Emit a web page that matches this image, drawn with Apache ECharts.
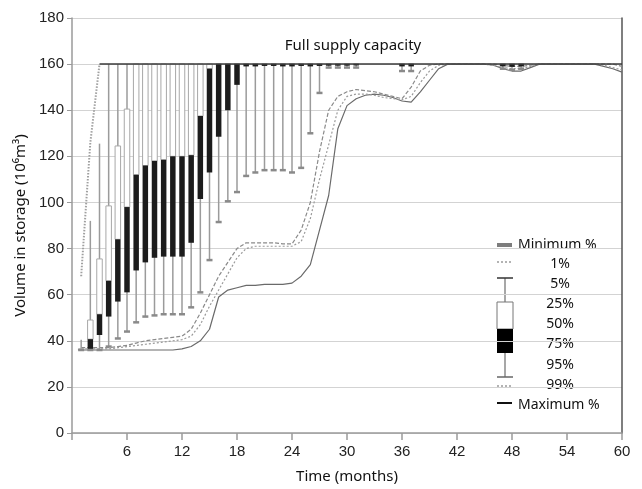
<!DOCTYPE html>
<html>
<head>
<meta charset="utf-8">
<script src="https://cdn.jsdelivr.net/npm/echarts@6/dist/echarts.min.js"></script>
<style>
  html, body { margin: 0; padding: 0; background: #fff; }
  #chart { width: 642px; height: 489px; }
</style>
</head>
<body>
<div id="chart"></div>
<script>
// Reservoir storage percentiles (10^6 m^3) per month of simulation
const xTicks = [6, 12, 18, 24, 30, 36, 42, 48, 54, 60];
const yTicks = [0, 20, 40, 60, 80, 100, 120, 140, 160, 180];

// Box-and-whisker months and their exceedance percentiles
const boxMonths = [1, 2, 3, 4, 5, 6, 7, 8, 9, 10, 11, 12, 13, 14, 15, 16, 17, 18, 19, 20,
                   21, 22, 23, 24, 25, 26, 27, 28, 29, 30, 31, 36, 37, 47, 48, 49];
const p5  = [40.5, 92, 125.5, 160, 160, 160, 160, 160, 160, 160, 160, 160, 160, 160, 160, 160, 160, 160, 160, 160,
             160, 160, 160, 160, 160, 160, 160, 160, 160, 160, 160, 160, 160, 160, 160, 160];
const p25 = [36.5, 49, 75.5, 98.5, 124.5, 140.5, 160, 160, 160, 160, 160, 160, 160, 160, 160, 160, 160, 160, 160, 160,
             160, 160, 160, 160, 160, 160, 160, 160, 160, 160, 160, 160, 160, 160, 160, 160];
const p50 = [36.2, 40.7, 51.5, 66, 84, 98, 112, 116, 118, 118.5, 120, 120, 120.5, 137.5, 158, 160, 160, 160, 160, 160,
             160, 160, 160, 160, 160, 160, 160, 160, 160, 160, 160, 160, 160, 160, 160, 160];
const p75 = [36, 36.3, 42.5, 50.5, 57, 61, 70.5, 74, 76, 76.5, 76.5, 76.5, 82.5, 101.5, 113, 128.5, 140, 151, 159, 159,
             159.2, 159.2, 159, 159, 159.2, 159, 159.2, 159.3, 159.3, 159.3, 159.4, 159, 159, 159, 158.8, 159];
const p95 = [36, 36, 36, 37.5, 41, 44, 48, 50.5, 51, 51.5, 51.5, 51.5, 54.5, 61, 75, 91.5, 100.5, 104.5, 111.5, 113,
             114, 114, 114, 113, 115, 130, 147.5, 158.5, 158.5, 158.5, 158.5, 157, 157, 158, 157.5, 158];

// Monthly envelope lines (months 1..60)
const months = [1, 2, 3, 4, 5, 6, 7, 8, 9, 10, 11, 12, 13, 14, 15, 16, 17, 18, 19, 20,
                21, 22, 23, 24, 25, 26, 27, 28, 29, 30, 31, 32, 33, 34, 35, 36, 37, 38, 39, 40,
                41, 42, 43, 44, 45, 46, 47, 48, 49, 50, 51, 52, 53, 54, 55, 56, 57, 58, 59, 60];
const upper1 = [68, 126, 160];
const upperMonths = [1, 2, 3];
const maxMonths = [3, 60];
const maxLevel = [160, 160];
const lineDashed = [37, 37, 37, 37, 37.5, 38, 39, 40, 40.5, 41, 41.5, 42, 45, 52, 60, 68, 74, 80, 82.5, 82.5,
                    82.5, 82.5, 82, 82, 88, 100, 122, 140, 146, 148, 149, 148.5, 148, 147, 146, 145, 150, 157, 159.5, 160,
                    160, 160, 160, 160, 160, 160, 159.5, 159, 159, 159.5, 160, 160, 160, 160, 160, 160, 160, 160, 160, 159];
const lineDotted = [36.5, 36.5, 36.5, 36.5, 37, 37.5, 38, 38.5, 39, 39.5, 40, 40.5, 42, 47, 55, 62, 69, 76, 80, 81,
                    81, 81, 81, 81, 83, 93, 110, 125, 140, 146, 147, 147, 146.5, 145.5, 145, 144.5, 146, 152, 157, 159.5,
                    160, 160, 160, 160, 160, 159.5, 158.5, 158, 158, 159, 160, 160, 160, 160, 160, 160, 160, 159.5, 158.5, 157.5];
const lineMin = [36, 36, 36, 36, 36, 36, 36, 36, 36, 36, 36, 36.5, 37.5, 40, 45, 59, 62, 63, 64, 64,
                 64.5, 64.5, 64.5, 65, 68, 73, 88, 103, 132, 142, 145, 146.5, 147, 146.5, 145.5, 144, 143.5, 148, 153, 158,
                 160, 160, 160, 160, 160, 159.5, 158, 157, 157, 158.5, 160, 160, 160, 160, 160, 160, 160, 159, 158, 156.5];

const legendLabels = ['Minimum %', '1%', '5%', '25%', '50%', '75%', '95%', '99%', 'Maximum %'];

const pair = (xs, ys) => xs.map((x, i) => [x, ys[i]]);
const boxData = boxMonths.map((m, i) => [m, p5[i], p25[i], p50[i], p75[i], p95[i]]);

const chart = echarts.init(document.getElementById('chart'), null, { renderer: 'canvas' });

const labelFont = { fontFamily: 'Liberation Sans', fontSize: 15, color: '#222' };
const nameFont = { fontFamily: 'Noto Sans', fontSize: 15, color: '#111' };

function renderBox(params, api) {
  const m = api.value(0);
  const top = api.coord([m, api.value(1)]);
  const q1 = api.coord([m, api.value(2)]);
  const md = api.coord([m, api.value(3)]);
  const q3 = api.coord([m, api.value(4)]);
  const bot = api.coord([m, api.value(5)]);
  const x = top[0];
  const w = 5.5;
  return {
    type: 'group',
    children: [
      { type: 'line', shape: { x1: x, y1: top[1], x2: x, y2: bot[1] },
        style: { stroke: '#9b9b9b', lineWidth: 1.5 } },
      { type: 'rect', shape: { x: x - w / 2, y: q1[1], width: w, height: Math.max(md[1] - q1[1], 0) },
        style: { fill: '#fff', stroke: '#a8a8a8', lineWidth: 1 } },
      { type: 'rect', shape: { x: x - w / 2, y: md[1], width: w, height: Math.max(q3[1] - md[1], 0.8) },
        style: { fill: '#1c1c1c' } },
      { type: 'line', shape: { x1: x - 3, y1: bot[1], x2: x + 3, y2: bot[1] },
        style: { stroke: '#8a8a8a', lineWidth: 2.5 } }
    ]
  };
}

// Legend glyph and labels
const lgX = 497, lgW = 16, lgMid = lgX + lgW / 2;
const legendRows = [245, 264.5, 284.5, 304, 324, 344.5, 365, 385.5, 405];
const legendGraphics = [
  { type: 'rect', shape: { x: lgX, y: 243, width: 15, height: 4 }, style: { fill: '#7d7d7d' } },
  { type: 'line', shape: { x1: lgX, y1: 262, x2: lgX + 15, y2: 262 }, style: { stroke: '#9a9a9a', lineWidth: 1.5, lineDash: [2, 2] } },
  { type: 'line', shape: { x1: lgMid, y1: 278, x2: lgMid, y2: 377 }, style: { stroke: '#8a8a8a', lineWidth: 1.5 } },
  { type: 'line', shape: { x1: lgX, y1: 278, x2: lgX + lgW, y2: 278 }, style: { stroke: '#333', lineWidth: 1.5 } },
  { type: 'rect', shape: { x: lgX, y: 302, width: lgW, height: 27 }, style: { fill: '#fff', stroke: '#777', lineWidth: 1 } },
  { type: 'rect', shape: { x: lgX, y: 329, width: lgW, height: 24 }, style: { fill: '#000' } },
  { type: 'line', shape: { x1: lgX, y1: 377, x2: lgX + lgW, y2: 377 }, style: { stroke: '#666', lineWidth: 1.5 } },
  { type: 'line', shape: { x1: lgX, y1: 386, x2: lgX + 15, y2: 386 }, style: { stroke: '#9a9a9a', lineWidth: 1.5, lineDash: [2, 2] } },
  { type: 'line', shape: { x1: lgX, y1: 403, x2: lgX + 15, y2: 403 }, style: { stroke: '#111', lineWidth: 2 } }
];
legendLabels.forEach((t, i) => {
  const wide = i === 0 || i === legendLabels.length - 1;
  legendGraphics.push({
    type: 'text',
    style: {
      text: t, x: wide ? 518 : 560, y: legendRows[i],
      align: wide ? 'left' : 'center', verticalAlign: 'middle',
      font: '14px "Noto Sans"', fill: '#111'
    }
  });
});

const option = {
  animation: false,
  backgroundColor: '#fff',
  grid: { left: 72, right: 20, top: 18, bottom: 54, containLabel: false },
  xAxis: {
    type: 'value', min: 0, max: 60, interval: 6,
    name: 'Time (months)', nameLocation: 'middle', nameGap: 36,
    nameTextStyle: nameFont,
    axisLine: { lineStyle: { color: '#9a9a9a', width: 1.5 } },
    axisTick: { show: true, length: 7, lineStyle: { color: '#9a9a9a', width: 1.5 } },
    axisLabel: Object.assign({ margin: 11, formatter: v => (xTicks.includes(v) ? String(v) : '') }, labelFont),
    splitLine: { show: false }
  },
  yAxis: [{
    type: 'value', min: 0, max: 180, interval: 20,
    name: 'Volume in storage (10⁶m³)', nameLocation: 'middle', nameGap: 44, nameRotate: 90,
    nameTextStyle: nameFont,
    axisLine: { show: true, lineStyle: { color: '#9a9a9a', width: 1.5 } },
    axisTick: { show: true, length: 5, lineStyle: { color: '#9a9a9a' } },
    axisLabel: Object.assign({ margin: 8, formatter: v => (yTicks.includes(v) ? String(v) : '') }, labelFont),
    splitLine: { show: true, lineStyle: { color: '#d3d3d3', width: 1.2 } }
  }, {
    type: 'value', min: 0, max: 180, position: 'right',
    axisLine: { show: true, lineStyle: { color: '#555', width: 1.5 } },
    axisTick: { show: false }, axisLabel: { show: false }, splitLine: { show: false }
  }],
  graphic: [
    { type: 'text', style: { text: 'Full supply capacity', x: 353, y: 46, align: 'center', verticalAlign: 'middle',
      font: '15px "Noto Sans"', fill: '#111' } },
    ...legendGraphics
  ],
  series: [
    { name: 'Minimum %', type: 'line', data: pair(months, lineMin), symbol: 'none',
      lineStyle: { color: '#6a6a6a', width: 1.2 }, z: 3 },
    { name: '99%', type: 'line', data: pair(months, lineDotted), symbol: 'none',
      lineStyle: { color: '#9a9a9a', width: 1.2, type: [2, 2] }, z: 3 },
    { name: '95% envelope', type: 'line', data: pair(months, lineDashed), symbol: 'none',
      lineStyle: { color: '#8a8a8a', width: 1.2, type: [4, 2] }, z: 3 },
    { name: 'boxes', type: 'custom', renderItem: renderBox, data: boxData,
      encode: { x: 0, y: [1, 2, 3, 4, 5] }, z: 4 },
    { name: '1%', type: 'line', data: pair(upperMonths, upper1), symbol: 'none',
      lineStyle: { color: '#a0a0a0', width: 2, type: [1.5, 1.5] }, z: 5 },
    { name: 'Maximum %', type: 'line', data: pair(maxMonths, maxLevel), symbol: 'none',
      lineStyle: { color: '#3a3a3a', width: 1.5 }, z: 6 }
  ]
};

chart.setOption(option);
</script>
</body>
</html>
